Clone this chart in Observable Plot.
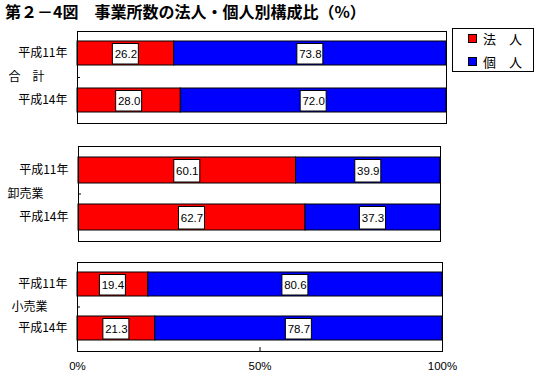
<!DOCTYPE html>
<html>
<head>
<meta charset="utf-8">
<script src="https://cdn.jsdelivr.net/npm/d3@7"></script>
<script src="https://cdn.jsdelivr.net/npm/@observablehq/plot@0.6"></script>
<style>
  html, body { margin: 0; padding: 0; background: #fff; }
  #root { position: relative; width: 544px; height: 381px; background: #fff; font-family: 'Noto Sans CJK JP', sans-serif; overflow: hidden; }
  #title { position: absolute; left: 5px; top: 1px; font-size: 16px; font-weight: bold; white-space: pre; line-height: 20px; }
  #legend { position: absolute; left: 452px; top: 28px; width: 80px; height: 42px; border: 1px solid #000; }
  .li { position: absolute; left: 15px; font-size: 13px; line-height: 16px; white-space: pre; }
  .sw { display: inline-block; width: 7px; height: 7px; border: 1px solid #000; margin-right: 6px; vertical-align: 1px; }
  .panel { position: absolute; left: 0; }
</style>
</head>
<body>
<div id="root">
  <div id="title"></div>
  <div id="legend"></div>
</div>
<script>
// ---- data ----
const title = "第２－4図　事業所数の法人・個人別構成比（%）";
const groups = ["合　計", "卸売業", "小売業"];
const years = ["平成11年", "平成14年"];
const seriesNames = ["法人", "個人"];
const legendLabels = ["法　人", "個　人"];
const seriesColors = ["#ff0000", "#0000ff"];
const hojin = [[26.2, 28.0], [60.1, 62.7], [19.4, 21.3]];
const kojin = [[73.8, 72.0], [39.9, 37.3], [80.6, 78.7]];
const xTicks = [0, 50, 100];

// ---- layout ----
const layout = [
  {top: 0,   height: 128, mt: 31, mb: 5,  left: 77, right: 446, pin: 0.479, pout: 0.198, gx: 8},
  {top: 128, height: 120, mt: 18, mb: 7,  left: 78, right: 440, pin: 0.457, pout: 0.239, gx: 7},
  {top: 248, height: 133, mt: 14, mb: 30, left: 77, right: 442, pin: 0.449, pout: 0.225, gx: 11}
];

const root = document.getElementById("root");
document.getElementById("title").textContent = title;

const legend = document.getElementById("legend");
legendLabels.forEach((lab, i) => {
  const d = document.createElement("div");
  d.className = "li";
  d.style.top = (2 + i * 23) + "px";
  const sw = document.createElement("span");
  sw.className = "sw";
  sw.style.background = seriesColors[i];
  d.appendChild(sw);
  d.appendChild(document.createTextNode(lab));
  legend.appendChild(d);
});

const jpFont = "'Noto Sans CJK JP', sans-serif";
const numFont = "'Liberation Sans', Arial, sans-serif";

groups.forEach((g, gi) => {
  const L = layout[gi];
  const rows = [];
  years.forEach((y, yi) => {
    const h = hojin[gi][yi], k = kojin[gi][yi];
    rows.push({year: y, series: seriesNames[0], x1: 0, x2: h, v: h});
    rows.push({year: y, series: seriesNames[1], x1: h, x2: h + k, v: k});
  });
  const mid = d => (d.x1 + d.x2) / 2;
  const frameW = L.right - L.left;
  const frameH = L.height - L.mt - L.mb;
  const last = gi === groups.length - 1;
  const marks = [
    Plot.barX(rows, {y: "year", x1: "x1", x2: "x2", fill: "series", stroke: "#000", strokeWidth: 1}),
    Plot.barX(rows, {y: "year", x1: mid, x2: mid, insetLeft: -13, insetRight: -13, insetTop: 2.5, insetBottom: 1,
      fill: "#fff", stroke: "#000", strokeWidth: 1}),
    Plot.text(rows, {y: "year", x: mid, text: d => d.v.toFixed(1), fill: "#000", fontSize: 11.5, fontFamily: numFont, dy: 1}),
    Plot.frame({stroke: "#000", strokeWidth: 1}),
    Plot.ruleY([0], {y: null, insetRight: frameW - 3, stroke: "#000"}),
    Plot.text([g], {frameAnchor: "left", text: d => d, dx: L.gx - L.left, textAnchor: "start", fontSize: 12, fontFamily: jpFont, fill: "#000"})
  ];
  if (last) {
    marks.push(Plot.ruleX([50], {insetTop: frameH - 4, stroke: "#000"}));
    marks.push(Plot.axisX({ticks: xTicks, tickSize: 0, tickPadding: 10, tickFormat: d => d + "%", fontSize: 11.5, fontFamily: numFont, label: null}));
  }
  const chart = Plot.plot({
    width: 544,
    height: L.height,
    marginLeft: L.left,
    marginRight: 544 - L.right,
    marginTop: L.mt,
    marginBottom: L.mb,
    style: {fontFamily: jpFont, fontSize: "12px", color: "#000", background: "transparent", overflow: "visible"},
    x: {domain: [0, 100], axis: null},
    y: {domain: years, paddingInner: L.pin, paddingOuter: L.pout, tickSize: 0, tickPadding: 10, label: null},
    color: {domain: seriesNames, range: seriesColors},
    marks
  });
  const wrap = document.createElement("div");
  wrap.className = "panel";
  wrap.style.top = L.top + "px";
  wrap.appendChild(chart);
  root.appendChild(wrap);
});
</script>
</body>
</html>
